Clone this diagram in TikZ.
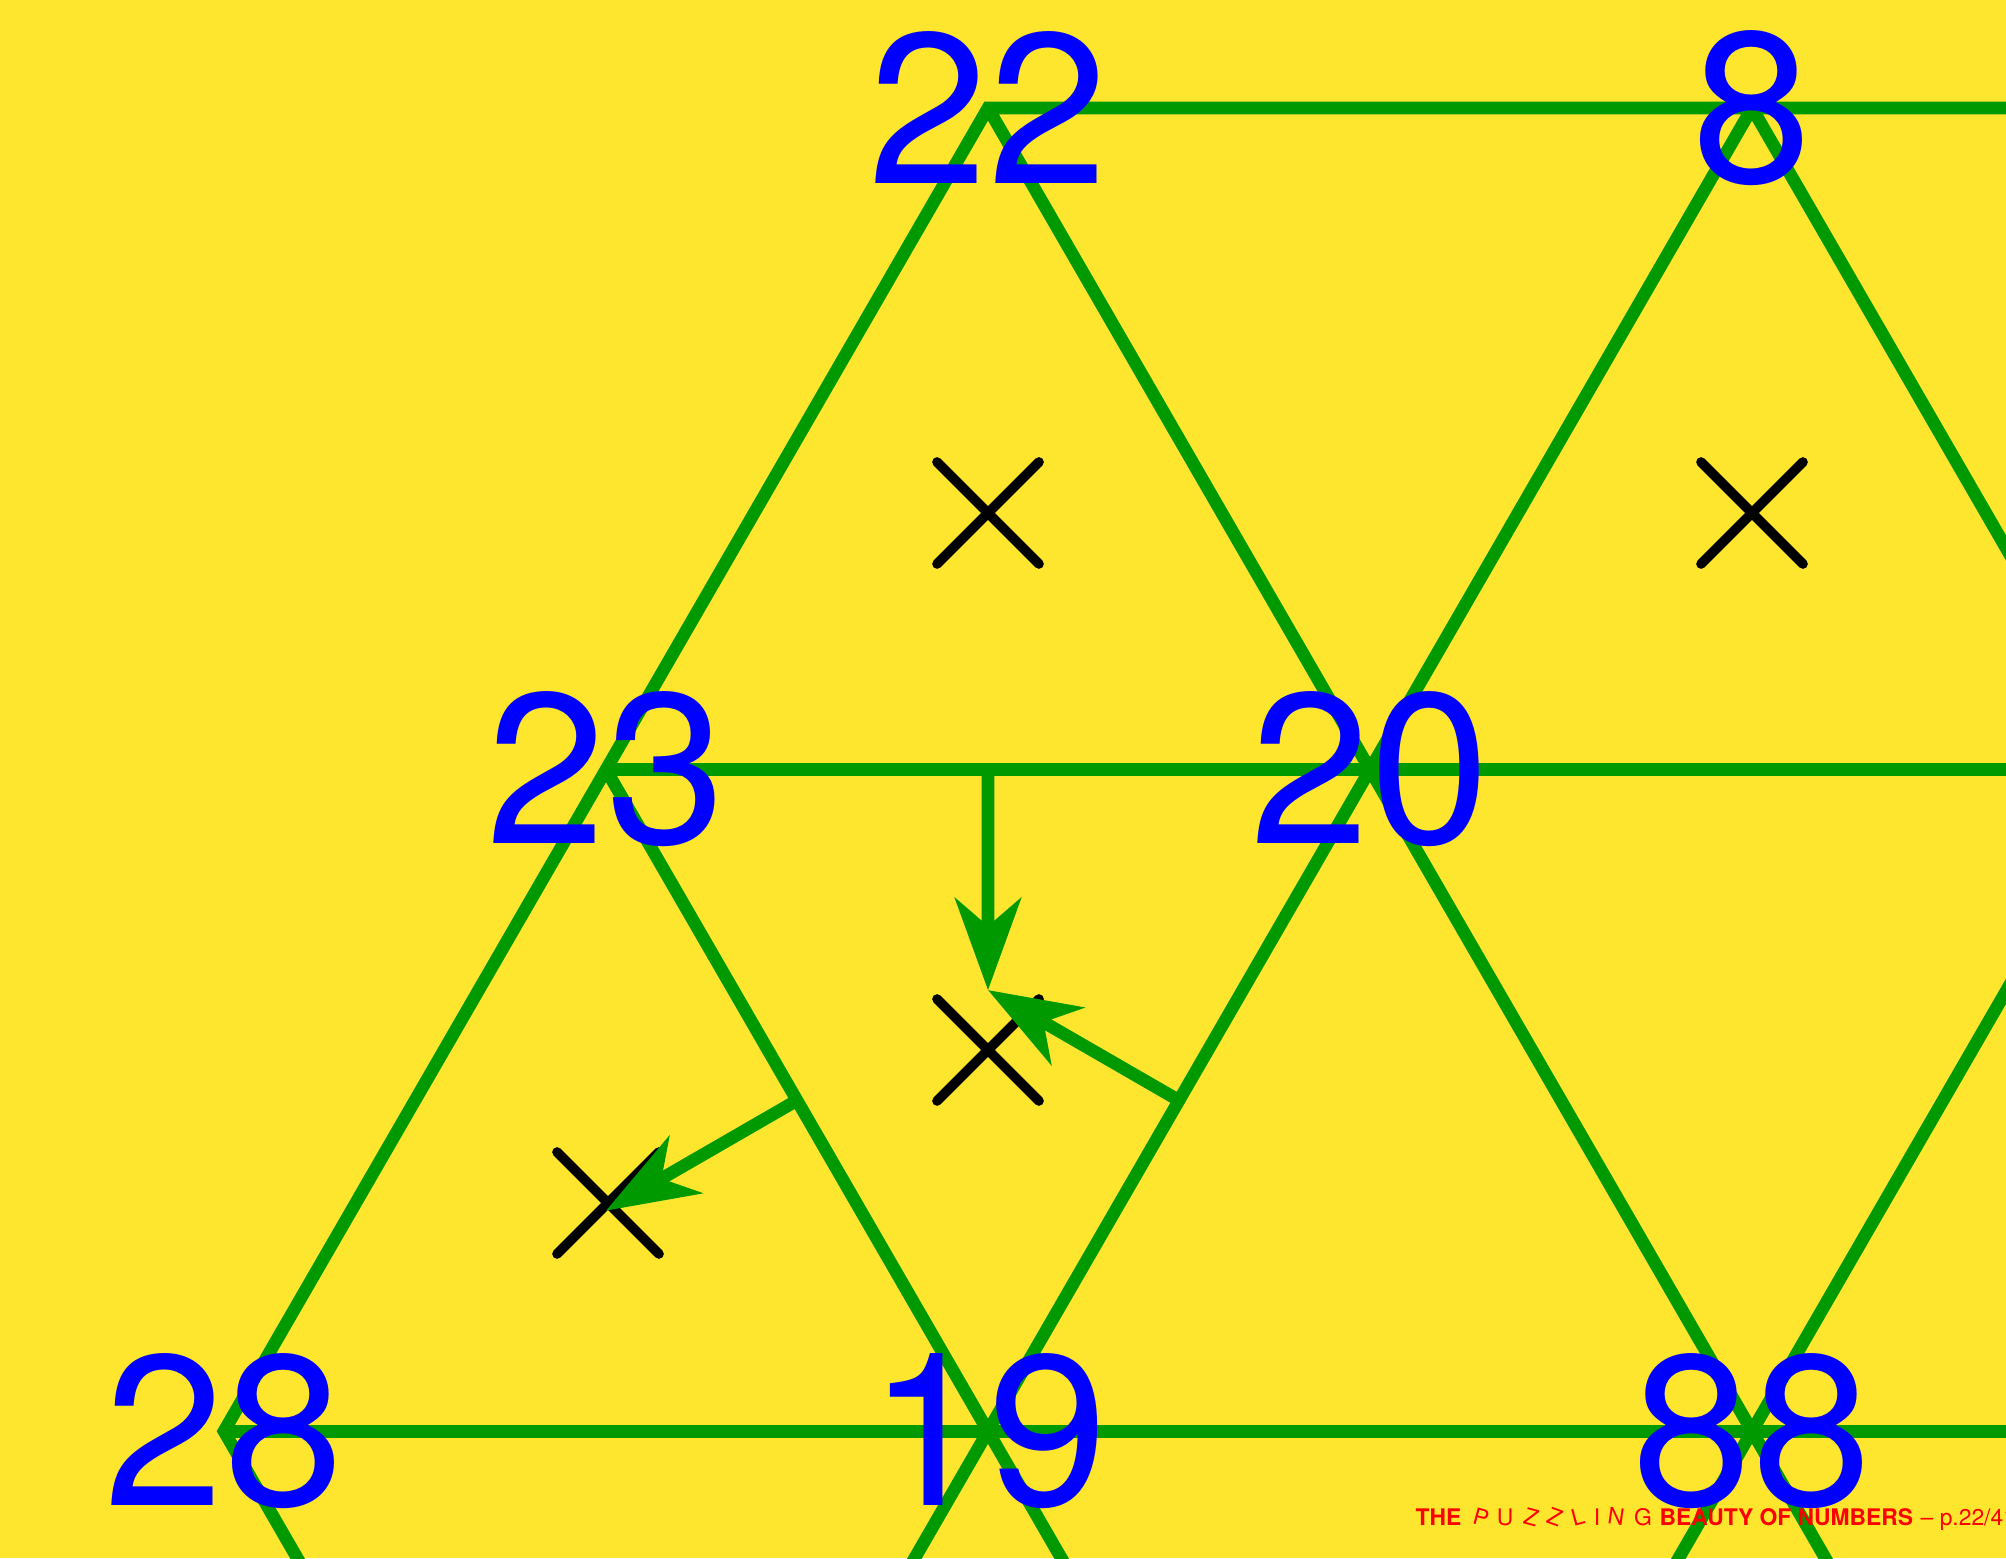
\documentclass[tikz,border=0pt]{standalone}
\usepackage{fontspec}
\setsansfont{TeX Gyre Heros}
\usetikzlibrary{arrows.meta, calc, shapes.misc}
\definecolor{slideyellow}{HTML}{FFE62E}
\definecolor{gridgreen}{HTML}{009900}

\begin{document}
\begin{tikzpicture}[
  gridline/.style={line width=3.6pt, gridgreen, line join=miter},
  crossmark/.style={cross out, draw=black, line width=2.8pt, line cap=round,
                minimum size=0.92cm, inner sep=0pt},
  arrow/.style={gridgreen, line width=3.6pt,
                -{Stealth[length=9.2mm, width=6.6mm, inset=2.8mm]}},
  vlabel/.style={font=\sffamily\fontsize{61pt}{61pt}\selectfont, text=blue, inner sep=0pt},
  footer/.style={font=\sffamily\fontsize{6.5pt}{8pt}\selectfont, text=red,
                inner sep=0pt, anchor=base west},
  puzzletter/.style={font=\sffamily\fontsize{6.5pt}{8pt}\selectfont, text=red,
                inner sep=0pt, anchor=base, rotate=#1},
  scale=1.0
]

% === Page ===
\fill[slideyellow] (0,0) rectangle (20.06,15.58);
\useasboundingbox (0,0) rectangle (20.06,15.58);
\clip (0,0) rectangle (20.06,15.58);

% === Lattice points ===
\coordinate (v22) at (9.88, 14.50);
\coordinate (v8)  at (17.52, 14.50);
\coordinate (v23) at (6.06, 7.884);
\coordinate (v20) at (13.70, 7.884);
\coordinate (v21) at (21.34, 7.884);
\coordinate (v28) at (2.24, 1.268);
\coordinate (v19) at (9.88, 1.268);
\coordinate (v88) at (17.52, 1.268);
% outside the page
\coordinate (o1) at (6.06, -5.348);
\coordinate (o2) at (13.70, -5.348);
\coordinate (o3) at (21.34, -5.348);
\coordinate (o4) at (25.16, 14.50);
\coordinate (o5) at (25.16, 7.884);
\coordinate (o6) at (25.16, 1.268);

% === Grid lines ===
\draw[gridline] (o1) -- (v28) -- (v22) -- (o4);
\draw[gridline] (v22) -- (o3);
\draw[gridline] (o1) -- (v8);
\draw[gridline] (v8) -- (o6);
\draw[gridline] (o2) -- (o4);
\draw[gridline] (v23) -- (o2);
\draw[gridline] (v23) -- (o5);
\draw[gridline] (v28) -- (o6);

% === Crosses ===
\node[crossmark] (x1) at (9.88, 10.45) {};
\node[crossmark] (x2) at (17.52, 10.45) {};
\node[crossmark] (x3) at (9.88, 5.08) {};
\node[crossmark] (x4) at (6.08, 3.55) {};

% === Arrows (edge midpoints to centres) ===
\coordinate (e1) at ($(v23)!0.5!(v20)$);
\coordinate (e2) at ($(v20)!0.5!(v19)$);
\coordinate (e3) at ($(v23)!0.5!(v19)$);
\coordinate (c1) at ($(e1)!1/3!(v19)$);
\coordinate (c2) at ($(e3)!1/3!(v28)$);

\draw[arrow] (e1) -- (c1);
\draw[arrow] (e2) -- (c1);
\draw[arrow] (e3) -- (c2);

% === Numbers ===
\node[vlabel] (l22) at (v22) {22};
\node[vlabel] (l8)  at (v8)  {8};
\node[vlabel] (l23) at (v23) {23};
\node[vlabel] (l20) at (v20) {20};
\node[vlabel] (l28) at (v28) {28};
\node[vlabel] (l19) at (v19) {19};
\node[vlabel] (l88) at (v88) {88};

% === Footer ===
\node[footer, font=\sffamily\bfseries\fontsize{6.5pt}{8pt}\selectfont] (f1) at (14.15, 0.33) {THE};
\node[puzzletter=-15] (p1) at (14.79, 0.33) {P};
\node[puzzletter=0]   (p2) at (15.05, 0.33) {U};
\node[puzzletter=-15] (p3) at (15.29, 0.33) {Z};
\node[puzzletter=-20] (p4) at (15.52, 0.33) {Z};
\node[puzzletter=15]  (p5) at (15.80, 0.33) {L};
\node[puzzletter=0]   (p6) at (15.97, 0.33) {I};
\node[puzzletter=-8]  (p7) at (16.15, 0.33) {N};
\node[puzzletter=0]   (p8) at (16.43, 0.33) {G};
\node[footer, font=\sffamily\bfseries\fontsize{6.5pt}{8pt}\selectfont] (f2) at (16.59, 0.33) {BEAUTY OF NUMBERS};
\node[footer] (f3) at (19.20, 0.33) {-- p.22/41};

\end{tikzpicture}
\end{document}
